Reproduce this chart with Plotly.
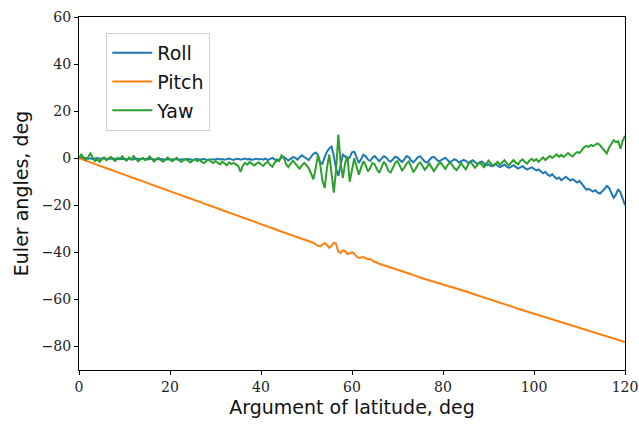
import numpy as np
import plotly.graph_objects as go

# Argument of latitude grid, deg (0.5 deg sampling)
step = 0.5
u = np.arange(0, 120 + step / 2, step)

roll = [
    0.0, 0.2, -0.1, 0.1, -0.2, 0.0, -0.3, -0.1, 0.1, -0.2, -0.1, 0.0, -0.3, -0.2, 0.0, -0.1, -0.3, -0.2, -0.1, -0.3,
    -0.2, -0.4, -0.1, -0.3, -0.5, -0.2, -0.4, -0.3, -0.1, -0.4, -0.5, -0.3, -0.2, -0.5, -0.4, -0.6, -0.3, -0.5, -0.4, -0.2,
    -0.4, -0.6, -0.3, -0.5, -0.7, -0.4, -0.6, -0.5, -0.3, -0.6, -0.8, -0.5, -0.4, -0.7, -0.5, -0.3, -0.6, -0.8, -0.5, -0.6,
    -0.4, -0.2, -0.5, -0.3, -0.6, -0.4, -0.1, -0.5, -0.7, -0.3, -0.2, -0.6, -0.4, -0.1, -0.5, -0.3, -0.7, -0.4, -0.2, -0.5,
    -0.3, -0.6, -0.2, -0.8, -0.4, 0.1, -0.5, -1.2, -0.6, 0.3, 0.6, -0.4, -1.0, -0.3, 0.5, 0.2, -0.6, 0.4, 1.2, 0.5,
    0.0, -0.8, 0.6, 1.8, 2.4, 1.5, -1.8, -2.4, 0.5, 2.8, 4.2, 5.0, 1.0, -4.5, -7.5, -3.0, 1.5, 0.8, -0.5, 0.3,
    2.5, 2.8, 0.2, -2.0, -0.5, 1.5, 0.8, -0.6, -1.2, 0.2, 0.9, -0.4, -1.3, -0.2, 0.8, 0.3, -0.9, -1.5, -0.3, 0.6,
    0.2, -0.8, -1.6, -0.5, 0.9, 0.4, -1.0, -1.8, -0.7, 0.5, 0.8, -0.6, -1.5, -1.9, -0.8, 0.3, 0.6, -0.4, -1.3, -0.9,
    -0.3, 0.2, -0.8, -1.7, -1.2, -0.4, -0.9, -1.8, -1.3, -0.7, -1.1, -2.0, -1.5, -0.9, -1.6, -2.4, -2.0, -1.4, -2.2, -3.0,
    -2.6, -3.4, -3.0, -2.4, -3.2, -3.8, -3.3, -2.7, -3.5, -4.1, -3.6, -3.0, -3.7, -4.4, -3.9, -3.4, -4.2, -4.8, -4.3, -3.9,
    -4.5, -5.2, -4.8, -5.6, -6.4, -5.8, -7.0, -7.6, -6.8, -7.9, -8.8, -8.2, -9.3, -8.6, -7.9, -8.7, -9.5, -8.9, -9.8, -10.3,
    -9.6, -10.8, -12.2, -13.4, -13.0, -13.8, -14.2, -13.6, -14.6, -15.0, -14.2, -13.1, -11.8, -12.6, -14.8, -16.8, -15.5, -13.2, -14.5, -17.0,
    -20.0,
]

pitch = [
    0.0, -0.3, -0.7, -1.1, -1.4, -1.7, -2.1, -2.5, -2.8, -3.1, -3.5, -3.9, -4.2, -4.5, -4.9, -5.3, -5.6, -5.9, -6.3, -6.7,
    -7.0, -7.3, -7.7, -8.1, -8.4, -8.7, -9.1, -9.5, -9.8, -10.1, -10.5, -10.9, -11.2, -11.5, -11.9, -12.3, -12.6, -12.9, -13.3, -13.7,
    -14.0, -14.3, -14.7, -15.1, -15.4, -15.7, -16.1, -16.5, -16.8, -17.1, -17.5, -17.9, -18.2, -18.5, -18.9, -19.3, -19.6, -19.9, -20.3, -20.7,
    -21.0, -21.3, -21.7, -22.1, -22.4, -22.7, -23.1, -23.5, -23.8, -24.1, -24.5, -24.9, -25.2, -25.5, -25.9, -26.3, -26.6, -26.9, -27.3, -27.7,
    -28.0, -28.3, -28.7, -29.1, -29.4, -29.7, -30.1, -30.5, -30.8, -31.1, -31.5, -31.9, -32.2, -32.6, -32.9, -33.2, -33.6, -33.9, -34.3, -34.6,
    -34.8, -35.0, -35.3, -35.9, -36.6, -37.2, -37.4, -36.8, -36.0, -36.9, -38.1, -37.2, -35.9, -36.4, -39.8, -40.3, -39.1, -39.6, -40.7, -40.4,
    -40.0, -40.5, -41.8, -42.4, -42.2, -42.0, -42.5, -42.9, -42.8, -43.5, -44.1, -44.4, -45.0, -45.2, -45.5, -45.9, -46.1, -46.4, -46.6, -47.0,
    -47.2, -47.6, -47.9, -48.3, -48.6, -48.8, -49.3, -49.7, -50.1, -50.4, -50.7, -51.0, -51.3, -51.6, -51.9, -52.1, -52.4, -52.6, -52.9, -53.2,
    -53.4, -53.7, -54.0, -54.4, -54.7, -55.0, -55.3, -55.6, -56.0, -56.3, -56.6, -56.9, -57.2, -57.6, -57.9, -58.2, -58.5, -58.8, -59.2, -59.5,
    -59.8, -60.1, -60.4, -60.8, -61.1, -61.4, -61.7, -62.0, -62.4, -62.7, -63.0, -63.3, -63.6, -64.0, -64.3, -64.6, -64.9, -65.2, -65.6, -65.9,
    -66.1, -66.4, -66.7, -67.0, -67.3, -67.6, -67.9, -68.2, -68.5, -68.8, -69.1, -69.4, -69.7, -70.0, -70.3, -70.6, -70.9, -71.2, -71.5, -71.8,
    -72.1, -72.4, -72.7, -73.0, -73.3, -73.6, -73.9, -74.2, -74.5, -74.8, -75.1, -75.4, -75.7, -76.0, -76.3, -76.6, -76.9, -77.2, -77.5, -77.8,
    -78.1,
]

yaw = [
    0.0, 1.6, 0.4, -0.8, 0.5, 2.0, 0.3, -1.2, -0.4, -1.5, -0.6, 0.4, -0.9, -0.2, 0.6, -0.5, -1.1, 0.2, -0.3, 0.8,
    -0.4, -1.0, 0.3, -0.6, 0.9, -0.2, -1.3, -0.5, 0.1, -0.8, -0.3, 0.7, -0.6, -1.4, -0.4, 0.2, -0.9, -1.5, -0.6, 0.3,
    -0.7, -1.3, -0.5, 0.2, -0.9, -1.6, -0.8, -0.3, -1.2, -1.8, -1.0, -0.4, -1.3, -0.6, -1.7, -2.1, -1.1, -0.5, -1.4, -2.0,
    -1.2, -1.9, -2.6, -1.5, -2.2, -3.0, -1.8, -2.5, -2.0, -2.9, -3.4, -5.8, -3.2, -2.0, -2.7, -1.6, -2.4, -3.1, -2.3, -1.8,
    -2.6, -3.3, -2.1, -1.5, -2.8, -3.6, -2.0, -0.5, -1.2, 1.2, 0.4, -2.5, -3.8, -2.4, -1.0, -2.2, -3.5, -4.4, -3.1, -2.0,
    -3.0, -4.3, -6.5, -9.0, -4.5, 1.2, -2.5, -9.5, -12.6, -4.0, 1.5, -6.0, -14.6, -5.0, 10.0, -2.0, -8.3, -2.0, 0.8, -10.0,
    -5.0, 0.0, -3.5, -7.0, -4.0, -1.3, -3.0, -5.6, -4.2, -2.0, -2.6, -4.8, -6.2, -3.5, -1.5, -2.8, -5.5, -6.0, -3.8, -2.0,
    -1.2, -3.0, -5.2, -4.0, -2.3, -1.4, -3.6, -5.8, -4.5, -2.6, -1.8, -3.3, -4.9, -3.7, -2.2, -3.9, -5.5, -4.1, -2.5, -1.9,
    -3.2, -4.6, -3.0, -1.7, -2.8, -4.3, -5.1, -3.4, -2.1, -3.6, -4.8, -2.9, -1.5, -2.6, -4.0, -3.1, -1.8, -2.7, -3.8, -2.4,
    -1.0, -2.2, -3.4, -2.6, -1.5, -2.8, -1.9, -0.9, -2.1, -3.0, -1.8, -0.8, -1.9, -2.6, -1.2, -0.5, -1.6, -2.3, -1.0, -0.3,
    -1.2, -0.4, -1.5, -0.6, 0.3, -0.8, 0.2, 1.0, 0.1, 0.9, 1.6, 0.6, 1.4, 0.5, 1.2, 2.2, 1.3, 0.7, 1.9, 2.6,
    2.2, 3.4, 4.6, 5.2, 4.8, 5.6, 5.1, 5.8, 6.3, 5.5, 4.4, 3.0, 2.0, 4.5, 6.2, 7.6, 6.8, 7.2, 4.0, 7.5,
    9.5,
]

series = [("Roll", roll, "#1f77b4"), ("Pitch", pitch, "#ff7f0e"), ("Yaw", yaw, "#2ca02c")]

fig = go.Figure()
for name, vals, color in series:
    fig.add_trace(go.Scatter(x=u, y=vals, mode="lines", name=name, legendgroup=name,
                             line=dict(color=color, width=2)))

tick_font = dict(family="DejaVu Serif", size=14, color="#222")
label_font = dict(family="DejaVu Sans", size=19, color="#111")

axis_common = dict(showline=True, linecolor="black", linewidth=1, mirror=True,
                   ticks="outside", ticklen=4, tickwidth=1, tickcolor="black",
                   showgrid=False, zeroline=False, automargin=False)

fig.update_xaxes(range=[0, 120], tickvals=[0, 20, 40, 60, 80, 100, 120],
                 tickfont=tick_font,
                 title=dict(text="Argument of latitude, deg", font=label_font, standoff=6),
                 **axis_common)
fig.update_yaxes(range=[-90, 60], tickvals=[-80, -60, -40, -20, 0, 20, 40, 60],
                 tickfont=tick_font,
                 title=dict(text="Euler angles, deg", font=label_font, standoff=8),
                 **axis_common)

fig.update_layout(
    width=639, height=426,
    margin=dict(l=79, r=14, t=17, b=56),
    paper_bgcolor="white", plot_bgcolor="white",
    legend=dict(x=0.05, y=0.955, xanchor="left", yanchor="top",
                bgcolor="rgba(255,255,255,0.8)", bordercolor="#d0d0d0", borderwidth=1,
                font=dict(family="DejaVu Sans", size=19, color="#111"),
                itemwidth=40, tracegroupgap=1),
)

fig.write_html("out.html")
